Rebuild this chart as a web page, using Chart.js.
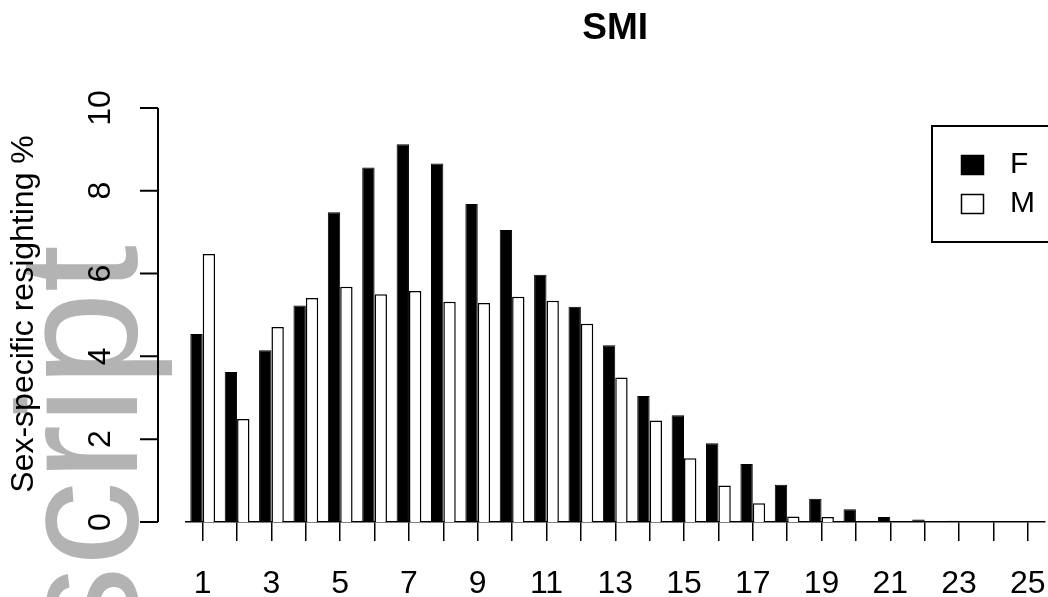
<!DOCTYPE html>
<html lang="en">
<head>
<meta charset="UTF-8" />
<title>SMI - Sex-specific resighting %</title>
<style>
  html, body { margin: 0; padding: 0; background: #fff; }
  canvas { display: block; }
</style>
</head>
<body>
<canvas id="chart" width="1048" height="597"></canvas>
<script src="https://cdn.jsdelivr.net/npm/chart.js"></script>
<script>
// values (percent of resightings per year)
const ages = ['1','2','3','4','5','6','7','8','9','10','11','12','13',
              '14','15','16','17','18','19','20','21','22','23','24','25'];
const femaleValues = [4.54, 3.62, 4.15, 5.23, 7.48, 8.56, 9.12, 8.66, 7.68, 7.05, 5.97, 5.20, 4.27,
                      3.04, 2.58, 1.90, 1.40, 0.90, 0.56, 0.31, 0.12, 0.06, 0.03, 0.02, 0];
const maleValues = [6.47, 2.49, 4.71, 5.41, 5.68, 5.50, 5.58, 5.32, 5.29, 5.44, 5.34, 4.79, 3.49,
                    2.45, 1.54, 0.88, 0.45, 0.13, 0.12, 0, 0, 0, 0, 0, 0];
const yTicks = [0, 2, 4, 6, 8, 10];
const seriesNames = ['F', 'M'];
const chartTitle = 'SMI';
const yTitle = 'Sex-specific resighting %';

const FONT = '"Liberation Sans", Arial, Helvetica, sans-serif';

// grey "script" watermark in the left margin, under everything else
const watermark = {
  id: 'watermark',
  beforeDraw(chart) {
    const ctx = chart.ctx;
    ctx.save();
    ctx.translate(137, 245);
    ctx.rotate(-Math.PI / 2);
    ctx.font = '170px ' + FONT;
    ctx.fillStyle = '#b3b3b3';
    ctx.textAlign = 'right';
    ctx.textBaseline = 'alphabetic';
    ctx.fillText('script', 0, 0);
    ctx.restore();
  }
};

// R-style y axis: detached from the bars, labels parallel to the axis
const leftAxis = {
  id: 'leftAxis',
  afterDraw(chart) {
    const ctx = chart.ctx;
    const y = chart.scales.y;
    const x0 = 158;
    ctx.save();
    ctx.strokeStyle = '#000';
    ctx.lineWidth = 2;
    ctx.beginPath();
    ctx.moveTo(x0, y.getPixelForValue(yTicks[0]));
    ctx.lineTo(x0, y.getPixelForValue(yTicks[yTicks.length - 1]));
    yTicks.forEach(v => {
      const py = y.getPixelForValue(v);
      ctx.moveTo(x0, py);
      ctx.lineTo(x0 - 18, py);
    });
    ctx.stroke();

    ctx.fillStyle = '#000';
    ctx.font = '32px ' + FONT;
    ctx.textAlign = 'center';
    ctx.textBaseline = 'middle';
    yTicks.forEach(v => {
      ctx.save();
      ctx.translate(101, y.getPixelForValue(v));
      ctx.rotate(-Math.PI / 2);
      ctx.fillText(String(v), 0, 0);
      ctx.restore();
    });

    ctx.translate(24, (y.top + y.bottom) / 2 - 1);
    ctx.rotate(-Math.PI / 2);
    ctx.fillText(yTitle, 0, 0);
    ctx.restore();
  }
};

// boxed legend in the top right corner (runs off the edge like the original)
const boxLegend = {
  id: 'boxLegend',
  afterDraw(chart) {
    const ctx = chart.ctx;
    ctx.save();
    ctx.strokeStyle = '#000';
    ctx.lineWidth = 2;
    ctx.strokeRect(932, 126, 130, 116);
    ctx.font = '30px ' + FONT;
    ctx.textAlign = 'left';
    ctx.textBaseline = 'middle';
    chart.data.datasets.forEach((ds, i) => {
      const top = 155 + i * 39;
      ctx.fillStyle = ds.backgroundColor;
      ctx.fillRect(961, top, 23, 20);
      ctx.lineWidth = 1.5;
      ctx.strokeRect(961.5, top + 0.5, 22, 19);
      ctx.fillStyle = '#000';
      ctx.fillText(ds.label, 1010, top + 10);
    });
    ctx.restore();
  }
};

const ctx = document.getElementById('chart').getContext('2d');
new Chart(ctx, {
  type: 'bar',
  data: {
    labels: ages,
    datasets: [
      {
        label: seriesNames[0],
        data: femaleValues,
        backgroundColor: '#000000',
        borderColor: '#000000',
        borderWidth: 1
      },
      {
        label: seriesNames[1],
        data: maleValues,
        backgroundColor: '#ffffff',
        borderColor: '#000000',
        borderWidth: 1.5
      }
    ]
  },
  options: {
    responsive: false,
    animation: false,
    devicePixelRatio: 1,
    datasets: {
      bar: { categoryPercentage: 0.72, barPercentage: 1 }
    },
    layout: { padding: { top: 0, left: 185.5, right: 3, bottom: 0 } },
    scales: {
      x: {
        offset: true,
        grid: {
          display: true,
          offset: false,
          drawOnChartArea: false,
          drawTicks: true,
          tickLength: 19,
          color: '#000',
          lineWidth: 1.5
        },
        border: { display: true, color: '#000', width: 1.5 },
        ticks: {
          autoSkip: false,
          maxRotation: 0,
          minRotation: 0,
          padding: 27,
          color: '#000',
          font: { family: FONT, size: 32, lineHeight: 1 },
          callback: (v, i) => (i % 2 === 0 ? ages[i] : '')
        },
        // fixed axis height, and no extra side padding for the end labels
        afterFit: s => {
          s.height = 75;
          s.paddingLeft = 0;
          s.paddingRight = 0;
        }
      },
      y: {
        display: false,
        min: 0,
        max: 10
      }
    },
    plugins: {
      legend: { display: false },
      tooltip: { enabled: false },
      title: {
        display: true,
        text: chartTitle,
        fullSize: false,
        color: '#000',
        font: { family: FONT, size: 37, weight: 'bold', lineHeight: 1.2 },
        padding: { top: 7, bottom: 56.5 }
      }
    }
  },
  plugins: [watermark, leftAxis, boxLegend]
});
</script>
</body>
</html>
